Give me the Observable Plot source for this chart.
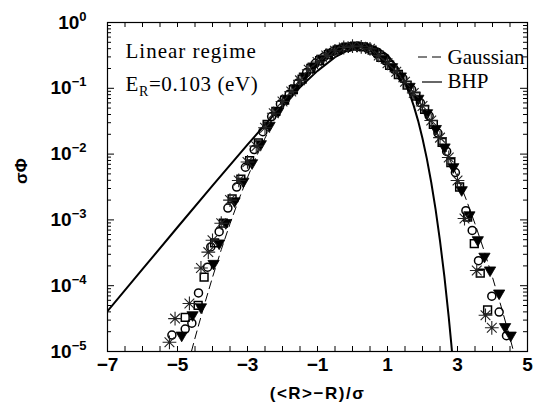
<!DOCTYPE html>
<html><head><meta charset="utf-8">
<script src="https://cdn.jsdelivr.net/npm/d3@7"></script>
<script src="https://cdn.jsdelivr.net/npm/@observablehq/plot@0.6"></script>
<style>body{margin:0;background:#fff}</style>
</head><body><div id="chart"></div>
<script>
// ---- data ----
const starX = [-5.23,-5.07,-4.66,-4.33,-4.12,-4.0,-3.75,-3.5,-3.25,-3.0,-2.75,-2.5,-2.25,-2.0,-1.75,-1.5,-1.25,-1.0,-0.75,-0.5,-0.25,0,0.25,0.5,0.75,1.0,1.25,1.5,1.75,2.0,2.25,2.5,2.75,3.0,3.2,3.55,3.8,3.98];
const starY = [1.38e-5,3.16e-5,5.37e-5,1.86e-4,3.24e-4,4.90e-4,8.9e-4,2.0e-3,3.98e-3,7.6e-3,0.0132,0.0251,0.0417,0.0631,0.0891,0.132,0.191,0.251,0.316,0.372,0.417,0.437,0.427,0.398,0.316,0.240,0.178,0.126,0.0851,0.0537,0.0324,0.0178,8.9e-3,3.98e-3,1.05e-3,1.70e-4,3.55e-5,2.29e-5];

const circleX = [-5.16,-4.78,-4.59,-4.40,-4.14,-4.05,-3.81,-3.56,-3.31,-3.06,-2.81,-2.56,-2.31,-2.06,-1.81,-1.56,-1.31,-1.06,-0.81,-0.56,-0.31,-0.06,0.19,0.44,0.69,0.94,1.19,1.44,1.69,1.94,2.19,2.44,2.69,2.94,3.24,3.42,3.60,3.98,4.19,4.40];
const circleY = [1.78e-5,2.19e-5,2.69e-5,7.76e-5,1.91e-4,3.89e-4,6.61e-4,1.51e-3,3.16e-3,6.31e-3,0.0117,0.0219,0.0372,0.0575,0.0813,0.120,0.174,0.240,0.302,0.363,0.407,0.427,0.437,0.407,0.339,0.263,0.195,0.141,0.0955,0.0603,0.0380,0.0209,0.0110,5.25e-3,1.38e-3,6.92e-4,2.40e-4,6.92e-5,3.98e-5,1.74e-5];

const squareX = [-4.78,-4.41,-4.24,-3.94,-3.69,-3.44,-3.19,-2.94,-2.69,-2.44,-2.19,-1.94,-1.69,-1.44,-1.19,-0.94,-0.69,-0.44,-0.19,0.06,0.31,0.56,0.81,1.06,1.31,1.56,1.81,2.06,2.31,2.56,2.81,3.06,3.29,3.48,3.65,3.86];
const squareY = [3.31e-5,5.01e-5,1.35e-4,4.47e-4,8.91e-4,2.09e-3,4.17e-3,7.94e-3,0.0148,0.0282,0.0447,0.0661,0.0955,0.138,0.200,0.263,0.324,0.380,0.422,0.437,0.427,0.380,0.295,0.224,0.162,0.112,0.0759,0.0479,0.0282,0.0151,7.41e-3,3.16e-3,1.10e-3,4.37e-4,1.55e-4,4.27e-5];

const triX = [-4.88,-4.57,-4.33,-3.97,-3.81,-3.62,-3.37,-3.12,-2.87,-2.62,-2.37,-2.12,-1.87,-1.62,-1.37,-1.12,-0.87,-0.62,-0.37,-0.12,0.13,0.38,0.63,0.88,1.13,1.38,1.63,1.88,2.13,2.38,2.63,2.88,3.12,3.34,3.58,3.77,3.93,4.19,4.36,4.52];
const triY = [1.74e-5,3.55e-5,4.68e-5,2.14e-4,4.37e-4,8.91e-4,1.91e-3,3.80e-3,7.24e-3,0.0141,0.0269,0.0447,0.0692,0.100,0.151,0.214,0.282,0.347,0.398,0.427,0.437,0.417,0.355,0.282,0.209,0.151,0.105,0.0692,0.0417,0.0240,0.0126,6.31e-3,2.82e-3,1.17e-3,4.90e-4,2.75e-4,1.70e-4,7.59e-5,2.34e-5,1.74e-5];

const gaussX = [-4.6,-4.5,-4.25,-4.0,-3.75,-3.5,-3.25,-3.0,-2.75,-2.5,-2.25,-2.0,-1.75,-1.5,-1.25,-1.0,-0.75,-0.5,-0.25,0,0.25,0.5,0.75,1.0,1.25,1.5,1.75,2.0,2.25,2.5,2.75,3.0,3.25,3.5,3.75,4.0,4.25,4.5,4.6];
const gaussY = [1.01e-5,1.60e-5,4.77e-5,1.34e-4,3.53e-4,8.73e-4,2.03e-3,4.43e-3,9.09e-3,0.0175,0.0317,0.054,0.0863,0.1295,0.1826,0.242,0.3011,0.352,0.3867,0.399,0.3867,0.352,0.3011,0.242,0.1826,0.1295,0.0863,0.054,0.0317,0.0175,9.09e-3,4.43e-3,2.03e-3,8.73e-4,3.53e-4,1.34e-4,4.77e-5,1.60e-5,1.01e-5];

const bhpX = [-7,-6,-5,-4,-3,-2.5,-2,-1.5,-1,-0.5,0,0.25,0.5,0.75,1,1.25,1.375,1.5,1.625,1.75,1.875,2,2.125,2.25,2.375,2.5,2.625,2.75,2.82,2.86];
const bhpY = [4.1e-5,1.78e-4,7.73e-4,3.33e-3,0.01395,0.028,0.0549,0.1037,0.184,0.297,0.410,0.4425,0.442,0.400,0.320,0.2195,0.169,0.1234,0.0847,0.0541,0.032,0.01729,8.47e-3,3.705e-3,1.43e-3,4.80e-4,1.38e-4,3.29e-5,1.35e-5,7.9e-6];

const xTickLabels = [-7,-5,-3,-1,1,3,5];
const yTickExponents = [0,-1,-2,-3,-4,-5];
const legendLabels = ["Gaussian","BHP"];

// ---- layout ----
const W = 535, H = 411, mL = 107, mR = 8, mT = 22, mB = 60;
const iW = W - mL - mR, iH = H - mT - mB;
const sans = "'Liberation Sans', Arial, Helvetica, sans-serif";
const serif = "'Liberation Serif', 'Times New Roman', serif";

const zip = (xs, ys) => xs.map((x, i) => ({x, y: ys[i]}));
const stars = zip(starX, starY), circles = zip(circleX, circleY),
      squares = zip(squareX, squareY), tris = zip(triX, triY),
      gauss = zip(gaussX, gaussY), bhp = zip(bhpX, bhpY);

const star8 = {draw(ctx, size) {
  const r = Math.sqrt(size / Math.PI) * 1.6, d = r * Math.SQRT1_2;
  ctx.moveTo(-r, 0); ctx.lineTo(r, 0); ctx.moveTo(0, -r); ctx.lineTo(0, r);
  ctx.moveTo(-d, -d); ctx.lineTo(d, d); ctx.moveTo(-d, d); ctx.lineTo(d, -d);
}};
const triDown = {draw(ctx, size) {
  const R = Math.sqrt(size / Math.PI);
  const w = R * 1.25, h1 = R * 0.8, h2 = R * 1.35;
  ctx.moveTo(-w, -h1); ctx.lineTo(w, -h1); ctx.lineTo(0, h2); ctx.closePath();
}};

const xMinor = d3.range(-7, 5.001, 0.5);
const yMajor = yTickExponents.map(e => 10 ** e);
const yMinor = [];
for (let e = -5; e < 0; e++) for (let m = 2; m <= 9; m++) yMinor.push(m * 10 ** e);

function legendMark(index, scales, values, dims) {
  const g = d3.create("svg:g");
  const right = dims.width - dims.marginRight, top = dims.marginTop;
  g.append("line").attr("x1", right - 109).attr("x2", right - 86)
    .attr("y1", top + 35).attr("y2", top + 35)
    .attr("stroke", "black").attr("stroke-width", 1).attr("stroke-dasharray", "9,5");
  g.append("line").attr("x1", right - 105).attr("x2", right - 85)
    .attr("y1", top + 60).attr("y2", top + 60)
    .attr("stroke", "black").attr("stroke-width", 1.2);
  return g.node();
}

const fmtX = d => d < 0 ? "\u2212" + Math.abs(d) : String(d);

const svg = Plot.plot({
  width: W, height: H,
  marginLeft: mL, marginRight: mR, marginTop: mT, marginBottom: mB,
  style: {background: "white", overflow: "visible"},
  x: {domain: [-7, 5], axis: null},
  y: {type: "log", domain: [1e-5, 1], axis: null},
  marks: [
    // ticks (inward)
    Plot.ruleX(xMinor, {x: d => d, insetTop: iH - 5, stroke: "black"}),
    Plot.ruleX(xMinor, {x: d => d, insetBottom: iH - 5, stroke: "black"}),
    Plot.ruleY(yMajor, {y: d => d, insetRight: iW - 7, stroke: "black"}),
    Plot.ruleY(yMajor, {y: d => d, insetLeft: iW - 7, stroke: "black"}),
    Plot.ruleY(yMinor, {y: d => d, insetRight: iW - 4, stroke: "black"}),
    Plot.ruleY(yMinor, {y: d => d, insetLeft: iW - 4, stroke: "black"}),
    // curves
    Plot.line(gauss, {x: "x", y: "y", stroke: "black", strokeWidth: 1, strokeDasharray: "8,5", clip: true}),
    Plot.line(bhp, {x: "x", y: "y", stroke: "black", strokeWidth: 2, clip: true}),
    // data points
    Plot.dot(tris, {x: "x", y: "y", symbol: triDown, r: 4.5, fill: "black", stroke: "black", strokeWidth: 0.8}),
    Plot.dot(squares, {x: "x", y: "y", symbol: "square", r: 4.4, fill: "none", stroke: "black", strokeWidth: 1.5}),
    Plot.dot(circles, {x: "x", y: "y", symbol: "circle", r: 4, fill: "none", stroke: "black", strokeWidth: 1.5}),
    Plot.dot(stars, {x: "x", y: "y", symbol: star8, r: 4.3, fill: "none", stroke: "#222", strokeWidth: 1.1}),
    Plot.frame({stroke: "black", strokeWidth: 1.2}),
    // tick labels
    Plot.text(xTickLabels, {x: d => d, frameAnchor: "bottom", dy: 19, text: fmtX,
      fontSize: 19, fontWeight: "bold", fontFamily: sans, fill: "black"}),
    Plot.text(yTickExponents, {y: d => 10 ** d, frameAnchor: "left", dx: -21, textAnchor: "end",
      text: d => "10^" + d, fontSize: 19, fontWeight: "bold", fontFamily: sans, fill: "black"}),
    // axis titles
    Plot.text(["(<R>\u2212R)/\u03c3"], {frameAnchor: "bottom", dy: 47, fontSize: 17, fontWeight: "bold", fontFamily: sans, fill: "black"}),
    Plot.text(["\u03c3\u03a6"], {frameAnchor: "left", dx: -86, dy: -3, rotate: -90, fontSize: 17, fontWeight: "bold", fontFamily: sans, fill: "black"}),
    // annotations
    Plot.text(["Linear regime"], {frameAnchor: "top-left", dx: 18, dy: 35, lineAnchor: "bottom", textAnchor: "start",
      fontSize: 21, fontFamily: serif, fill: "black"}),
    Plot.text(["E_R=0.103 (eV)"], {frameAnchor: "top-left", dx: 18, dy: 68, lineAnchor: "bottom", textAnchor: "start",
      fontSize: 21, fontFamily: serif, fill: "black"}),
    // legend
    Plot.text([legendLabels[0]], {frameAnchor: "top-right", dx: -80, dy: 41, lineAnchor: "bottom", textAnchor: "start",
      fontSize: 21, fontFamily: serif, fill: "black"}),
    Plot.text([legendLabels[1]], {frameAnchor: "top-right", dx: -80, dy: 65, lineAnchor: "bottom", textAnchor: "start",
      fontSize: 21, fontFamily: serif, fill: "black"}),
    legendMark
  ]
});

// superscripts / subscripts / spacing
d3.select(svg).selectAll("text").each(function () {
  const s = this.textContent;
  const t = d3.select(this);
  if (s.startsWith("10^")) {
    const [b, e] = s.split("^");
    this.textContent = "";
    t.append("tspan").text(b);
    t.append("tspan").attr("dy", "-8").attr("font-size", "13px").text(e.replace("-", "\u2212"));
  } else if (s === "E_R=0.103 (eV)") {
    this.textContent = "";
    t.attr("letter-spacing", "0.6px");
    t.append("tspan").text("E");
    t.append("tspan").attr("dy", "5").attr("font-size", "14px").text("R");
    t.append("tspan").attr("dy", "-5").text("=0.103 (eV)");
  } else if (s === "Linear regime") {
    t.attr("letter-spacing", "1px");
  } else if (s.startsWith("(<R>")) {
    t.attr("letter-spacing", "1.5px");
  }
});
document.getElementById("chart").appendChild(svg);
</script>
</body></html>
